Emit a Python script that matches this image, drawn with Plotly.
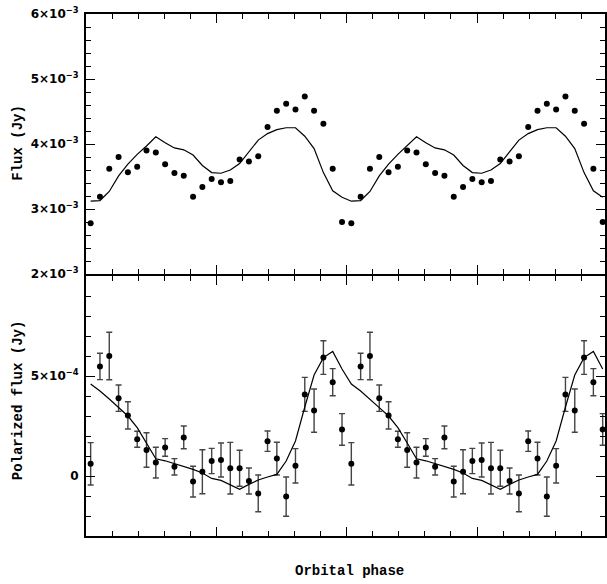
import numpy as np
import plotly.graph_objects as go

# 28 phase bins per orbital cycle, plotted over two cycles
n_bins = 28
phase_one = (np.arange(n_bins) + 0.5) / n_bins

flux = [2.78, 3.19, 3.62, 3.80, 3.565, 3.65, 3.90, 3.87, 3.69, 3.555, 3.51, 3.19, 3.34, 3.46,
        3.41, 3.43, 3.76, 3.73, 3.81, 4.26, 4.51, 4.62, 4.53, 4.73, 4.51, 4.31, 3.62, 2.80]  # 1e-3 Jy
flux_model = [3.12, 3.13, 3.27, 3.51, 3.69, 3.84, 3.97, 4.11, 4.02, 3.94, 3.91, 3.83, 3.67, 3.56,
              3.55, 3.60, 3.70, 3.88, 4.06, 4.16, 4.22, 4.25, 4.25, 4.12, 3.93, 3.56, 3.28, 3.18]

pol = [0.61, 5.48, 6.00, 3.89, 3.03, 1.84, 1.30, 0.67, 1.43, 0.46, 1.93, -0.28, 0.21, 0.75,
       0.80, 0.39, 0.39, -0.25, -0.87, 1.74, 0.87, -1.03, 0.51, 4.08, 3.27, 5.92, 4.69, 2.33]  # 1e-4 Jy
pol_err = [1.06, 0.66, 1.19, 0.66, 0.68, 0.40, 0.86, 0.77, 0.44, 0.41, 0.57, 0.77, 1.10, 0.63,
           0.85, 1.29, 0.90, 0.65, 0.92, 0.51, 0.82, 0.98, 0.86, 0.85, 1.08, 0.84, 0.68, 0.79]
pol_model = [4.60, 4.25, 3.85, 3.42, 3.00, 2.42, 1.65, 0.86, 0.76, 0.62, 0.48, 0.33, 0.15, -0.12,
             -0.22, -0.45, -0.67, -0.42, -0.20, -0.05, 0.08, 0.75, 1.75, 3.45, 5.05, 5.92, 6.23, 5.35]

top_tickvals = [2e-3, 3e-3, 4e-3, 5e-3, 6e-3]
top_ticktext = ["2×10<sup>−3</sup>", "3×10<sup>−3</sup>", "4×10<sup>−3</sup>",
                "5×10<sup>−3</sup>", "6×10<sup>−3</sup>"]
bot_tickvals = [0, 5e-4]
bot_ticktext = ["0", "5×10<sup>−4</sup>"]

phase = np.concatenate([phase_one, phase_one + 1])
two = lambda a, s: np.array(list(a) * 2) * s

fig = go.Figure()
fig.add_trace(go.Scatter(x=phase, y=two(flux, 1e-3), mode="markers",
                         marker=dict(color="black", size=6), xaxis="x2", yaxis="y"))
fig.add_trace(go.Scatter(x=phase, y=two(flux_model, 1e-3), mode="lines",
                         line=dict(color="black", width=1.2), xaxis="x2", yaxis="y"))
fig.add_trace(go.Scatter(x=phase, y=two(pol, 1e-4), mode="markers",
                         marker=dict(color="black", size=6),
                         error_y=dict(type="data", array=two(pol_err, 1e-4), visible=True,
                                      color="#444", thickness=1.4, width=3),
                         xaxis="x", yaxis="y2"))
fig.add_trace(go.Scatter(x=phase, y=two(pol_model, 1e-4), mode="lines",
                         line=dict(color="black", width=1.2), xaxis="x", yaxis="y2"))

xrange = [0, 1.991]
common_x = dict(range=xrange, showticklabels=False, ticks="inside", ticklen=9, tickwidth=1.3,
                tickcolor="black", dtick=0.5, tick0=0, showline=True, linecolor="black",
                linewidth=2, mirror="allticks", showgrid=False, zeroline=False,
                minor=dict(ticks="inside", dtick=0.1, ticklen=5, tickwidth=1.1, tickcolor="black"))
tickfont = dict(family="DejaVu Sans", size=12, color="black", weight="bold")

fig.update_layout(
    width=607, height=584, margin=dict(l=86, r=0, t=14, b=48),
    paper_bgcolor="white", plot_bgcolor="white", showlegend=False,
    xaxis=dict(anchor="y2", **common_x),
    xaxis2=dict(anchor="y", matches="x", **common_x),
    yaxis=dict(domain=[0.5 + 1 / 522, 1], range=[2e-3, 6e-3], tickvals=top_tickvals,
               ticktext=top_ticktext,
               tickfont=tickfont, ticks="inside", ticklen=9, tickwidth=1.3, tickcolor="black",
               showline=True, linecolor="black", linewidth=2, mirror="allticks",
               showgrid=False, zeroline=False, ticklabelstandoff=3,
               minor=dict(ticks="inside", dtick=0.2e-3, tick0=0, ticklen=5, tickwidth=1.1,
                          tickcolor="black")),
    yaxis2=dict(domain=[0, 0.5 - 1 / 522], range=[-3e-4, 1e-3], tickvals=bot_tickvals,
                ticktext=bot_ticktext,
                tickfont=tickfont, ticks="inside", ticklen=9, tickwidth=1.3, tickcolor="black",
                showline=True, linecolor="black", linewidth=2, mirror="allticks",
                showgrid=False, zeroline=False, ticklabelstandoff=3,
                minor=dict(ticks="inside", dtick=1e-4, tick0=0, ticklen=5, tickwidth=1.1,
                           tickcolor="black")),
)

titlefont = dict(family="Liberation Mono", size=14, color="black", weight="bold")
fig.add_annotation(text="Flux (Jy)", xref="paper", yref="paper", x=(18 - 86) / 521,
                   y=(536 - 142.5) / 522,
                   xanchor="center", yanchor="middle", textangle=-90, showarrow=False, font=titlefont)
fig.add_annotation(text="Polarized flux (Jy)", xref="paper", yref="paper", x=(18 - 86) / 521,
                   y=(536 - 400) / 522, xanchor="center", yanchor="middle", textangle=-90,
                   showarrow=False, font=titlefont)
fig.add_annotation(text="Orbital phase", xref="paper", yref="paper", x=(351 - 86) / 521,
                   y=(536 - 571) / 522, xanchor="center", yanchor="middle", showarrow=False,
                   font=titlefont)

fig.write_html("out.html")
